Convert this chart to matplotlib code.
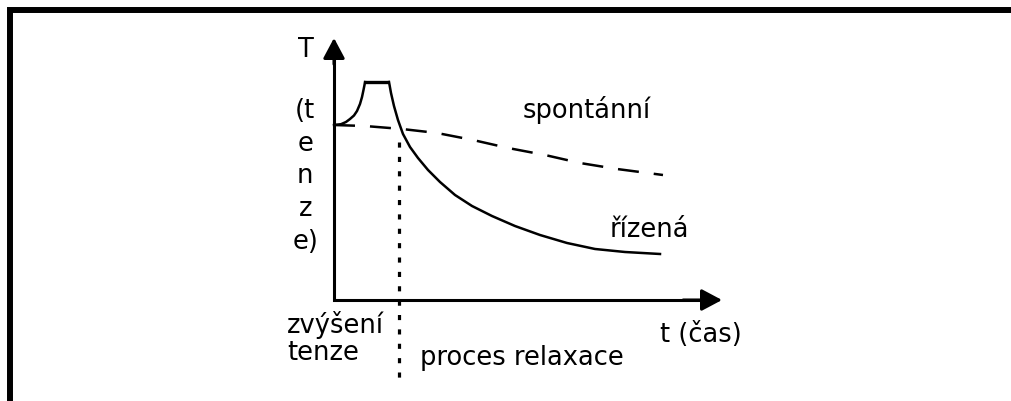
import matplotlib.pyplot as plt
from matplotlib.lines import Line2D

# rise of tension (t, T)
rise_t = [0, 0.180, 0.309, 0.412, 0.515, 0.593, 0.670, 0.722, 0.760, 0.786, 0.799]
rise_T = [6.679, 6.710, 6.794, 6.908, 7.042, 7.214, 7.481, 7.748, 8.015, 8.206, 8.321]

# plateau
top_t = [0.799, 1.418]
top_T = [8.321, 8.321]

# controlled relaxation (řízená)
rizena_t = [1.418, 1.469, 1.546, 1.649, 1.778, 1.959, 2.165, 2.423, 2.732, 3.119,
            3.557, 4.072, 4.665, 5.309, 6.005, 6.727, 7.500, 8.402]
rizena_T = [8.321, 7.901, 7.405, 6.870, 6.336, 5.840, 5.420, 4.962, 4.504, 4.008,
            3.588, 3.206, 2.824, 2.481, 2.176, 1.947, 1.832, 1.756]

# spontaneous relaxation (spontánní)
spont_t = [0, 0.799, 1.753, 2.655, 3.582, 4.485, 5.438, 6.340, 7.294, 8.479]
spont_T = [6.679, 6.641, 6.527, 6.374, 6.107, 5.802, 5.534, 5.229, 5.000, 4.771]

# boundary between phases
split_t = 1.675
split_T = [6.03, -3.13]

# axes extent
t_max = 10
T_max = 10

vert_label = ['(t', 'e', 'n', 'z', 'e)']

fig = plt.figure(figsize=(10.12, 4.01), dpi=100)
ax = fig.add_axes([0, 0, 1, 1])
ax.set_xlim(-334 / 38.8, (1012 - 334) / 38.8)
ax.set_ylim(-(401 - 300) / 26.2, 300 / 26.2)
ax.axis('off')

# frame (top and left only)
fig.add_artist(Line2D([10 / 1012, 10 / 1012, 1.01], [-0.01, 1 - 10 / 401, 1 - 10 / 401],
                      transform=fig.transFigure, color='black', lw=4.3,
                      solid_joinstyle='miter'))

# axes with arrows
ax.plot([0, 0, t_max - 0.5], [T_max - 0.7, 0, 0], color='black', lw=2.2,
        solid_joinstyle='miter')
arrow = dict(arrowstyle='-|>,head_length=0.62,head_width=0.33', mutation_scale=20,
             lw=2.2, color='black', shrinkA=0, shrinkB=0)
ax.annotate('', xy=(t_max, 0), xytext=(t_max - 1, 0), arrowprops=arrow)
ax.annotate('', xy=(0, T_max), xytext=(0, T_max - 1), arrowprops=arrow)

# curves
ax.plot(rise_t, rise_T, color='black', lw=1.8)
ax.plot(top_t, top_T, color='black', lw=2.4, solid_capstyle='butt')
ax.plot(rizena_t, rizena_T, color='black', lw=1.8)
ax.plot(spont_t, spont_T, color='black', lw=1.8, dashes=(8.4, 6.0),
        dash_capstyle='butt')
ax.plot([split_t, split_t], split_T, color='black', lw=2.3, dashes=(1.6, 2.9),
        dash_capstyle='butt')

fs = 18.5
ax.text(-0.72, 9.27, 'T', fontsize=fs, ha='center', va='baseline')
for i, s in enumerate(vert_label):
    ax.text(-0.74, 6.95 - i * 1.25, s, fontsize=fs, ha='center', va='baseline')
ax.text(4.85, 6.95, 'spontánní', fontsize=fs, ha='left', va='baseline')
ax.text(7.11, 2.40, 'řízená', fontsize=fs, ha='left', va='baseline')
# va='baseline' on a two-line text sits on the last line
ax.text(-1.21, -2.29, 'zvýšení\ntenze', fontsize=fs, ha='left', va='baseline',
        linespacing=1.07)
ax.text(8.40, -1.60, 't (čas)', fontsize=fs, ha='left', va='baseline')
ax.text(2.22, -2.48, 'proces relaxace', fontsize=fs, ha='left', va='baseline')

fig.savefig('out.png', dpi=100)
